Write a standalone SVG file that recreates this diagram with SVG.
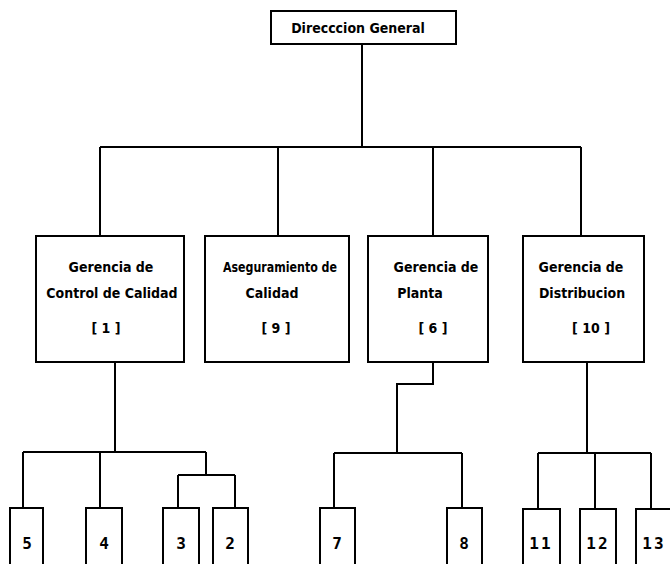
<svg xmlns="http://www.w3.org/2000/svg" width="670" height="564" viewBox="0 0 670 564">
<style>
.box{fill:#fff;stroke:#000;stroke-width:2}
.ln{fill:none;stroke:#000;stroke-width:2}
.t{font-family:"DejaVu Sans Condensed","DejaVu Sans",sans-serif;font-weight:bold;font-size:14px;fill:#000;text-anchor:middle}
.n{font-family:"DejaVu Sans Mono","Liberation Mono",monospace;font-weight:bold;font-size:16px;fill:#000;text-anchor:middle}
</style>
<rect width="670" height="564" fill="#fff"/>
<g id="connectors">
<path class="ln" d="M362 44V147M100 147H581M100 147V236M278 147V236M433 147V236M581 147V236"/>
<path class="ln" d="M115 362V452M23 452H206M23 452V508M100 452V508M206 452V475M178 475H235M178 475V508M235 475V508"/>
<path class="ln" d="M433 362V384H397V453M334 453H462M334 453V508M462 453V508"/>
<path class="ln" d="M587 362V453M538 453H651M538 453V509M595 453V509M651 453V509"/>
</g>
<g id="n-dg"><rect class="box" x="271" y="11" width="185" height="33"/><text class="t" x="358" y="33">Direcccion General</text></g>
<g id="n-1"><rect class="box" x="36" y="236" width="148" height="126"/><text class="t" x="111" y="272">Gerencia de</text><text class="t" x="112" y="298">Control de Calidad</text><text class="t" x="106" y="333">[ 1 ]</text></g>
<g id="n-9"><rect class="box" x="205" y="236" width="144" height="126"/><text class="t" x="280" y="272" textLength="114" lengthAdjust="spacingAndGlyphs">Aseguramiento de</text><text class="t" x="272" y="298">Calidad</text><text class="t" x="276" y="333">[ 9 ]</text></g>
<g id="n-6"><rect class="box" x="368" y="236" width="120" height="126"/><text class="t" x="436" y="272">Gerencia de</text><text class="t" x="420" y="298">Planta</text><text class="t" x="433" y="333">[ 6 ]</text></g>
<g id="n-10"><rect class="box" x="523" y="236" width="121" height="126"/><text class="t" x="581" y="272">Gerencia de</text><text class="t" x="582" y="298">Distribucion</text><text class="t" x="591" y="333">[ 10 ]</text></g>
<g id="n-5"><rect class="box" x="10" y="508" width="33" height="66"/><text class="n" x="27" y="549">5</text></g>
<g id="n-4"><rect class="box" x="86" y="508" width="36" height="66"/><text class="n" x="104" y="549">4</text></g>
<g id="n-3"><rect class="box" x="163" y="508" width="36" height="66"/><text class="n" x="181" y="549">3</text></g>
<g id="n-2"><rect class="box" x="213" y="508" width="35" height="66"/><text class="n" x="230" y="549">2</text></g>
<g id="n-7"><rect class="box" x="320" y="508" width="35" height="66"/><text class="n" x="337" y="549">7</text></g>
<g id="n-8"><rect class="box" x="447" y="508" width="35" height="66"/><text class="n" x="464" y="549">8</text></g>
<g id="n-11"><rect class="box" x="523" y="509" width="37" height="66"/><text class="n" x="541" y="549" letter-spacing="2">11</text></g>
<g id="n-12"><rect class="box" x="580" y="509" width="36" height="66"/><text class="n" x="598" y="549" letter-spacing="2">12</text></g>
<g id="n-13"><rect class="box" x="636" y="509" width="40" height="66"/><text class="n" x="654" y="549" letter-spacing="2">13</text></g>
</svg>
